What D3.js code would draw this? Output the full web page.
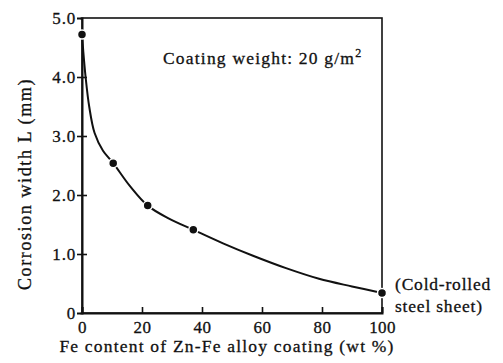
<!DOCTYPE html>
<html>
<head>
<meta charset="utf-8">
<script src="https://cdn.jsdelivr.net/npm/d3@7"></script>
<style>
  html, body { margin: 0; padding: 0; background: #fff; }
  svg text { font-family: "Liberation Serif", "DejaVu Serif", serif; fill: #111; stroke: #111; stroke-width: 0.3; }
</style>
</head>
<body>
<svg id="chart" width="503" height="363"></svg>
<script>
// Measured corrosion widths vs. Fe content of the Zn-Fe coating
const feContent = [0, 10.4, 21.9, 37.1, 100];
const corrosionWidth = [4.72, 2.54, 1.82, 1.41, 0.34];

// Nodes of the fitted trend curve
const curveFe = [0, 0.4, 1.2, 2.4, 4.2, 7, 10.4, 16, 21.9, 29, 37.1, 47, 57, 68, 79, 90, 100];
const curveWidth = [4.72, 4.45, 4.0, 3.5, 3.05, 2.75, 2.54, 2.15, 1.82, 1.6, 1.41, 1.18, 0.97, 0.76, 0.58, 0.45, 0.34];

const xTicks = [0, 20, 40, 60, 80, 100];
const yTicks = [0, 1, 2, 3, 4, 5];
const yTickLabels = ["0", "1.0", "2.0", "3.0", "4.0", "5.0"];

const svg = d3.select("#chart");
const plotLeft = 82, plotRight = 382, plotTop = 18, plotBottom = 313;

const x = d3.scaleLinear().domain([0, 100]).range([plotLeft, plotRight]);
const y = d3.scaleLinear().domain([0, 5]).range([plotBottom, plotTop]);

// Frame
svg.append("rect")
  .attr("x", plotLeft).attr("y", plotTop)
  .attr("width", plotRight - plotLeft).attr("height", plotBottom - plotTop)
  .attr("fill", "none").attr("stroke", "#111").attr("stroke-width", 1.6);

// X axis: ticks pointing into the plot
const xAxis = svg.append("g")
  .attr("transform", `translate(0,${plotBottom})`)
  .call(d3.axisBottom(x).tickValues(xTicks).tickSize(-6).tickPadding(8).tickFormat(d3.format("d")));
xAxis.select(".domain").attr("stroke", "#111").attr("stroke-width", 2);
xAxis.selectAll(".tick line").attr("stroke", "#111").attr("stroke-width", 1.6);
xAxis.selectAll(".tick text")
  .attr("font-size", 17).attr("font-family", "Liberation Serif").attr("fill", "#111")
  .attr("letter-spacing", 0.4);

// Y axis: ticks crossing the axis line
const yAxis = svg.append("g")
  .attr("transform", `translate(${plotLeft},0)`)
  .call(d3.axisLeft(y).tickValues(yTicks).tickSize(5).tickPadding(1)
    .tickFormat((d, i) => yTickLabels[i]));
yAxis.select(".domain").attr("stroke", "#111").attr("stroke-width", 2);
yAxis.selectAll(".tick line").attr("x1", 5).attr("stroke", "#111").attr("stroke-width", 1.6)
  .filter(d => d === 0 || d === 5).attr("x1", 0).attr("x2", -2);
yAxis.selectAll(".tick text")
  .attr("font-size", 17).attr("font-family", "Liberation Serif").attr("fill", "#111")
  .attr("letter-spacing", 0.8);

// Fitted curve
const line = d3.line()
  .x(d => x(d))
  .y((d, i) => y(curveWidth[i]))
  .curve(d3.curveCatmullRom.alpha(0.5));
svg.append("path")
  .attr("d", line(curveFe))
  .attr("fill", "none").attr("stroke", "#111").attr("stroke-width", 2);

// Data points with a thin white halo
svg.selectAll("circle.pt")
  .data(feContent)
  .join("circle")
  .attr("class", "pt")
  .attr("cx", d => x(d))
  .attr("cy", (d, i) => y(corrosionWidth[i]))
  .attr("r", 4.5)
  .attr("fill", "#111").attr("stroke", "#fff").attr("stroke-width", 1.5);

// Annotations
const note = svg.append("text")
  .attr("x", 163).attr("y", 64)
  .attr("font-size", 17.5).attr("letter-spacing", 1.2)
  .text("Coating weight: 20 g/m");
note.append("tspan").attr("dy", -7).attr("font-size", 12).text("2");

svg.append("text").attr("x", 395).attr("y", 290)
  .attr("font-size", 17.5).attr("letter-spacing", 0.8).text("(Cold-rolled");
svg.append("text").attr("x", 395).attr("y", 312)
  .attr("font-size", 17.5).attr("letter-spacing", 0.8).text("steel sheet)");

// Axis titles
svg.append("text")
  .attr("x", 227).attr("y", 352)
  .attr("text-anchor", "middle").attr("font-size", 17.5).attr("letter-spacing", 1.2)
  .text("Fe content of Zn-Fe alloy coating (wt %)");

svg.append("text")
  .attr("transform", "translate(31,184) rotate(-90)")
  .attr("text-anchor", "middle").attr("font-size", 18).attr("letter-spacing", 1.6)
  .text("Corrosion width L (mm)");
</script>
</body>
</html>
